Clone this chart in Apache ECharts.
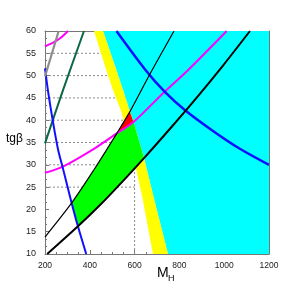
<!DOCTYPE html>
<html><head><meta charset="utf-8">
<script src="https://cdn.jsdelivr.net/npm/echarts@6/dist/echarts.min.js"></script>
<style>html,body{margin:0;padding:0;background:#fff}#c{width:300px;height:300px}</style>
</head><body><div id="c"></div>
<script>
// axis ranges / ticks
const xRange = [200, 1200];
const yRange = [10, 60];
const xStep = 200;
const yStep = 5;

// excluded / allowed regions (M_H, tg beta)
const cyanEdge = [[459,60],[519,51.2],[548,46.8],[578,42.1],[595,39.6],[642,31.5],[692,21.3],[749,10]];
const yellowLeft = [[419,60],[474,51.2],[504,46.7],[541,41.9],[608,28.8],[637,22.1],[682,10]];
const greenRegion = [[318,21.5],[420,29],[519,37.0],[595,39.6],[642,31.5],[556,26.8],[450,21.2],[347,16.2]];
const redRegion = [[519,37.0],[578,42.0],[595,39.6]];

// curves
const upperBlack = [[200,13.8],[320,21.5],[420,29],[520,37],[580,42],[668,50.3],[776,60]];
const lowerBlack = [[210,10],[347,16.2],[450,21.2],[556,26.8],[642,31.5],[760,38.2],[868,44.5],[1000,52.6],[1115,60]];
const blueRight = [[519,60],[645,51.5],[734,46.4],[824,42.3],[950,37.6],[1070,33.6],[1200,30]];
const blueLeft = [[200,51.6],[213,46.7],[236,39.5],[258,33.5],[280,29.2],[318,21.6],[347,16.2],[384,10]];
const magentaMain = [[200,28.2],[280,29.6],[422,33.7],[519,37.0],[595,39.6],[734,46.4],[838,51.2],[1011,60]];
const magentaTop = [[200,56.6],[236,57.4],[266,58.3],[303,60]];
const darkGreenLine = [[200,34.8],[280,46.7],[374,60]];
const grayLine = [[200,49.8],[261,60]];

// dashed reference lines
const refLevels = [25,30,35,40,45,50,55];
const refMass = 600;

const cyanPoly = cyanEdge.concat([[1200,10],[1200,60]]);
const yellowPoly = yellowLeft.concat(cyanEdge.slice().reverse());

function polySeries(pts, color, z) {
  return {
    type: 'custom', z: z, silent: true, clip: true,
    data: [[pts[0][0], pts[0][1]]],
    renderItem: function (params, api) {
      return { type: 'polygon', shape: { points: pts.map(p => api.coord(p)) },
               style: { fill: color, stroke: null } };
    }
  };
}
function lineSeries(pts, color, width, z, smooth) {
  return { type: 'line', data: pts, showSymbol: false, symbol: 'none', smooth: smooth, z: z,
           silent: true, lineStyle: { color: color, width: width }, clip: true };
}
const dashStyle = { color: '#8a8a8a', width: 1, type: [2, 2] };
const series = [];
refLevels.forEach(v => series.push({ type: 'line', data: [[xRange[0], v], [refMass, v]], symbol: 'none', z: 1, silent: true, lineStyle: dashStyle }));
series.push({ type: 'line', data: [[refMass, yRange[0]], [refMass, yRange[1]]], symbol: 'none', z: 1, silent: true, lineStyle: dashStyle });
series.push(polySeries(cyanPoly, '#00ffff', 2));
series.push(polySeries(yellowPoly, '#ffff00', 3));
series.push(polySeries(greenRegion, '#00ff00', 4));
series.push(polySeries(redRegion, '#ff0000', 5));
series.push(lineSeries(magentaTop, '#ff00ff', 2, 6, 0.3));
series.push(lineSeries(magentaMain, '#ff00ff', 2, 6, 0.3));
series.push(lineSeries(darkGreenLine, '#0a6644', 2, 6, 0.2));
series.push(lineSeries(blueLeft, '#1010ff', 2, 7, 0.3));
series.push(lineSeries(grayLine, '#8c8c8c', 2.2, 8, false));
series.push(lineSeries(blueRight, '#1010ff', 2.5, 7, 0.3));
series.push(lineSeries(upperBlack, '#000', 1.2, 8, 0.3));
series.push(lineSeries(lowerBlack, '#000', 2, 8, 0.3));

const axisCommon = {
  type: 'value',
  axisLine: { show: true, lineStyle: { color: '#777', width: 1 } },
  axisTick: { show: true, inside: true, length: 4, lineStyle: { color: '#777' } },
  splitLine: { show: false },
};
const chart = echarts.init(document.getElementById('c'), null, { renderer: 'canvas' });
chart.setOption({
  animation: false,
  backgroundColor: '#fff',
  grid: { left: 45, right: 31, top: 31, bottom: 46 },
  xAxis: [
    Object.assign({}, axisCommon, { min: xRange[0], max: xRange[1], interval: xStep, position: 'bottom',
      minorTick: { show: true, splitNumber: 4, length: 2, lineStyle: { color: '#777' } },
      axisLabel: { fontSize: 8.5, color: '#222', fontFamily: 'Liberation Sans, Arial', margin: 7, formatter: v => String(v) } }),
    Object.assign({}, axisCommon, { min: xRange[0], max: xRange[1], interval: xStep, position: 'top',
      axisTick: { show: false }, axisLabel: { show: false } })
  ],
  yAxis: [
    Object.assign({}, axisCommon, { min: yRange[0], max: yRange[1], interval: yStep, position: 'left',
      minorTick: { show: true, splitNumber: 3, length: 2, lineStyle: { color: '#777' } },
      axisLabel: { fontSize: 9, color: '#222', fontFamily: 'Liberation Sans, Arial', margin: 9, formatter: v => String(v) } }),
    Object.assign({}, axisCommon, { min: yRange[0], max: yRange[1], interval: yStep, position: 'right',
      axisTick: { show: false }, axisLabel: { show: false } })
  ],
  graphic: [
    { type: 'text', left: 6, top: 133, style: { text: 'tgβ', fontSize: 12, fill: '#000', fontFamily: 'Liberation Sans, Arial' } },
    { type: 'text', left: 157, top: 266, style: { text: 'M', fontSize: 14, fill: '#000', fontFamily: 'Liberation Sans, Arial' } },
    { type: 'text', left: 168, top: 274, style: { text: 'H', fontSize: 9, fill: '#000', fontFamily: 'Liberation Sans, Arial' } }
  ],
  series: series
});
</script>
</body></html>
